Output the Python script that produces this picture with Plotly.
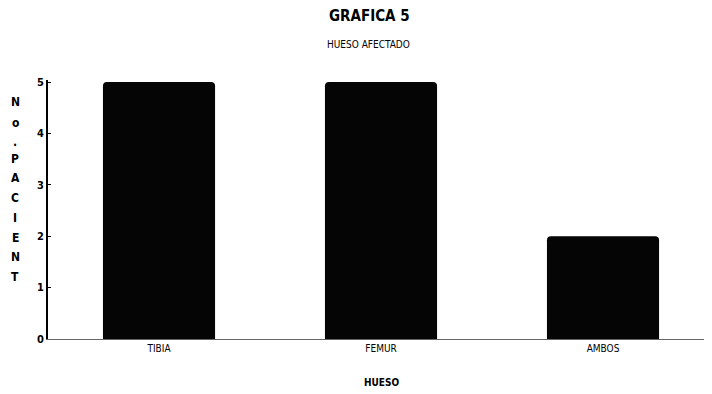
import plotly.graph_objects as go

categories = ["TIBIA", "FEMUR", "AMBOS"]
patients = [5, 5, 2]
y_ticks = [0, 1, 2, 3, 4, 5]
y_title_letters = list("No.PACIENT")

FONT = "DejaVu Sans Condensed, Liberation Sans Narrow, sans-serif"

# page is rendered with an 8px body offset; layout pixels = screen pixels - 8
OFF = 8
L, R, T, B = 40, 6, 72, 63
W, H = 712, 394
plot_w = W - L - R
plot_h = H - T - B


def px_x(px):
    return (px - OFF - L) / plot_w


def px_y(py):
    return (H - B - (py - OFF)) / plot_h


fig = go.Figure(go.Bar(
    x=categories, y=patients,
    width=0.505,
    marker=dict(color="#050505", line=dict(width=0), cornerradius=4),
))

fig.update_layout(
    width=W, height=H,
    margin=dict(l=L, r=R, t=T, b=B),
    paper_bgcolor="white", plot_bgcolor="white",
    showlegend=False,
    font=dict(family=FONT, color="black", size=10),
)

fig.update_xaxes(
    range=[-0.5, 2.5],
    showline=True, linecolor="#666666", linewidth=1,
    showgrid=False, ticks="", zeroline=False,
    tickfont=dict(family=FONT, size=10, color="black"),
)
fig.update_yaxes(
    range=[0, 5.04],
    tickvals=y_ticks, ticktext=[f"<b>{v}</b>" for v in y_ticks],
    showline=True, linecolor="black", linewidth=2,
    showgrid=False, zeroline=False,
    ticks="inside", ticklen=3, tickcolor="black",
    tickfont=dict(family=FONT, size=11, color="black"),
)

fig.add_annotation(text="<b>GRAFICA 5</b>", xref="paper", yref="paper",
                   x=px_x(369), y=px_y(16), showarrow=False,
                   xanchor="center", yanchor="middle",
                   font=dict(family=FONT, size=15, color="black"))
fig.add_annotation(text="HUESO AFECTADO", xref="paper", yref="paper",
                   x=px_x(368), y=px_y(44), showarrow=False,
                   xanchor="center", yanchor="middle",
                   font=dict(family=FONT, size=10, color="black"))
fig.add_annotation(text="<b>HUESO</b>", xref="paper", yref="paper",
                   x=px_x(381), y=px_y(382), showarrow=False,
                   xanchor="center", yanchor="middle",
                   font=dict(family=FONT, size=10, color="black"))

letter_y = [102, 123, 142, 159, 178, 198, 218, 238, 257, 277]
for ch, ly in zip(y_title_letters, letter_y):
    fig.add_annotation(text=f"<b>{ch}</b>", xref="paper", yref="paper",
                       x=px_x(15), y=px_y(ly), showarrow=False,
                       xanchor="center", yanchor="middle",
                       font=dict(family=FONT, size=12, color="black"))

fig.write_html("out.html")
